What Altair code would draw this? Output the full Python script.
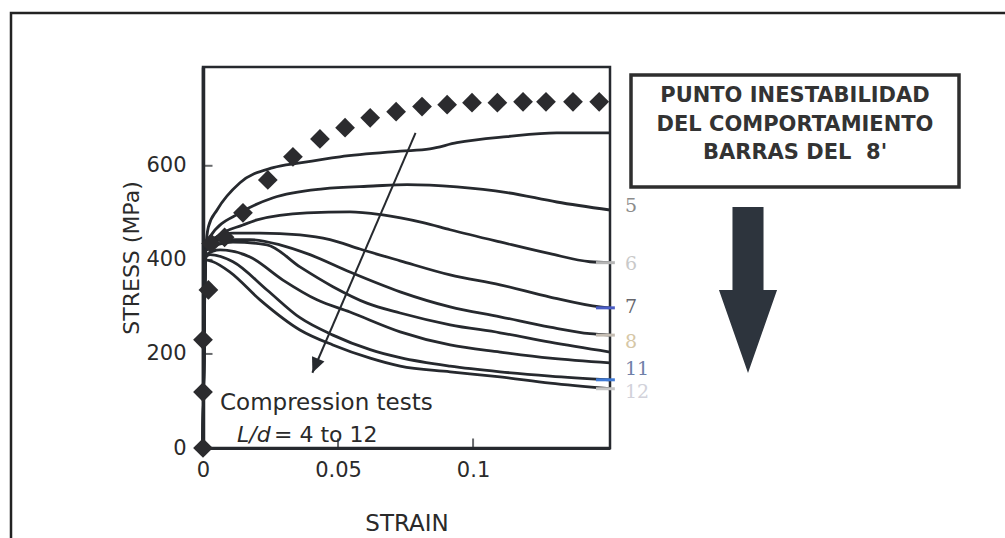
import altair as alt
import pandas as pd

# ---- stress-strain curves, compression tests L/d = 4 ... 12 ----
ld4_strain = [0, 0.001, 0.002, 0.0052, 0.0137, 0.026, 0.0359, 0.0507, 0.073, 0.084, 0.094, 0.1126, 0.131, 0.1507]
ld4_stress = [0, 420, 470, 506, 564, 596, 606, 619, 631, 636, 649, 662, 670, 670]

ld5_strain = [0, 0.001, 0.0026, 0.0137, 0.026, 0.0444, 0.063, 0.0756, 0.094, 0.1126, 0.131, 0.1507]
ld5_stress = [0, 420, 449, 500, 532, 551, 557, 560, 555, 543, 523, 506]

ld6_strain = [0, 0.001, 0.0052, 0.0148, 0.020, 0.0385, 0.0544, 0.066, 0.0815, 0.0915, 0.110, 0.1285, 0.1433, 0.1507]
ld6_stress = [0, 420, 449, 474, 485, 500, 502, 496, 479, 464, 438, 413, 396, 394]

ld7_strain = [0, 0.001, 0.0044, 0.0111, 0.0211, 0.0359, 0.047, 0.0581, 0.073, 0.0915, 0.110, 0.1285, 0.147, 0.1507]
ld7_stress = [0, 420, 447, 457, 457, 453, 443, 423, 398, 368, 347, 321, 300, 298]

ld8_strain = [0, 0.001, 0.0044, 0.0174, 0.0285, 0.0396, 0.0544, 0.073, 0.0915, 0.110, 0.1285, 0.1433, 0.1507]
ld8_stress = [0, 420, 443, 443, 432, 411, 374, 332, 300, 279, 257, 243, 240]

ld9_strain = [0, 0.001, 0.0111, 0.0237, 0.0359, 0.0481, 0.0607, 0.073, 0.0915, 0.110, 0.1285, 0.1507]
ld9_stress = [0, 420, 438, 432, 385, 343, 308, 287, 262, 245, 225, 204]

ld10_strain = [0, 0.001, 0.0063, 0.0174, 0.0296, 0.0422, 0.0544, 0.073, 0.0915, 0.110, 0.1285, 0.1507]
ld10_stress = [0, 410, 421, 406, 357, 315, 289, 247, 219, 204, 191, 181]

ld11_strain = [0, 0.001, 0.0026, 0.0111, 0.0237, 0.0359, 0.0481, 0.0619, 0.073, 0.0915, 0.110, 0.1285, 0.1507]
ld11_stress = [0, 405, 411, 396, 336, 277, 240, 209, 192, 174, 162, 153, 145]

ld12_strain = [0, 0.001, 0.0037, 0.010, 0.0211, 0.0359, 0.0481, 0.0619, 0.073, 0.0915, 0.110, 0.1285, 0.1507]
ld12_stress = [0, 400, 396, 374, 315, 251, 219, 191, 174, 162, 151, 138, 126]

# ---- tension test (diamond markers) ----
tension_strain = [0, 0, 0, 0.002, 0.003, 0.008, 0.0148, 0.024, 0.0333, 0.0433, 0.0526, 0.0619,
                  0.0715, 0.0811, 0.0904, 0.0996, 0.109, 0.1185, 0.127, 0.137, 0.1467]
tension_stress = [0, 119, 230, 336, 435, 448, 500, 570, 619, 657, 681, 702,
                  715, 726, 730, 734, 734, 736, 736, 736, 736]

# ---- curve-end labels ----
end_labels = ["5", "6", "7", "8", "11", "12"]
end_label_stress = [514, 391, 300, 226, 168, 119]

# small coloured marks at the ends of some curves
end_mark_ld = ["6", "7", "8", "11", "12"]
end_mark_stress = [394, 298, 240, 145, 126]

y_ticks = [200, 400, 600]
x_ticks = [0.05, 0.1]
x_tick_labels = [0, 0.05, 0.1]
y_tick_labels = [0, 200, 400, 600]

# trend arrow across the curves (tail, head)
trend_strain = [0.0787, 0.0405]
trend_stress = [670, 160]

box_lines = ["PUNTO INESTABILIDAD", "DEL COMPORTAMIENTO", "BARRAS DEL\u00a0 8'"]

# ---------------------------------------------------------------
curves = {
    "4": (ld4_strain, ld4_stress), "5": (ld5_strain, ld5_stress),
    "6": (ld6_strain, ld6_stress), "7": (ld7_strain, ld7_stress),
    "8": (ld8_strain, ld8_stress), "9": (ld9_strain, ld9_stress),
    "10": (ld10_strain, ld10_stress), "11": (ld11_strain, ld11_stress),
    "12": (ld12_strain, ld12_stress),
}
rows = []
for ld, (xs, ys) in curves.items():
    for i, (s, v) in enumerate(zip(xs, ys)):
        rows.append({"ld": ld, "order": i, "strain": s, "stress": v})
curve_df = pd.DataFrame(rows)

tension_df = pd.DataFrame({"strain": tension_strain, "stress": tension_stress})

W, H = 407, 381
X_MAX, Y_MAX = 0.1507, 810
INK = "#26292e"
SANS = "DejaVu Sans"

x_axis = alt.Axis(values=x_tick_labels, format="~g", ticks=False, grid=False,
                  domainColor=INK, domainWidth=3, labelFont=SANS, labelFontSize=21,
                  labelColor="#2a2a2a", labelPadding=11, labelFlush=False,
                  title="STRAIN", titleFont=SANS, titleFontSize=23, titleFontWeight="normal",
                  titleColor="#2a2a2a", titleY=82, titleBaseline="alphabetic")
y_axis = alt.Axis(values=y_tick_labels, ticks=False, grid=False,
                  domainColor=INK, domainWidth=3.5, labelFont=SANS, labelFontSize=21,
                  labelColor="#2a2a2a", labelPadding=17, labelFlush=False,
                  title="STRESS (MPa)", titleFont=SANS, titleFontSize=22, titleFontWeight="normal",
                  titleColor="#2a2a2a", titleX=-65, titleY=H / 2, titleAngle=270,
                  titleAlign="center", titleBaseline="alphabetic")

def X(field="strain"):
    return alt.X(f"{field}:Q", scale=alt.Scale(domain=[0, X_MAX], nice=False, zero=False), axis=x_axis)

def Y(field="stress"):
    return alt.Y(f"{field}:Q", scale=alt.Scale(domain=[0, Y_MAX], nice=False, zero=False), axis=y_axis)

one = pd.DataFrame({"k": [0]})

lines = alt.Chart(curve_df).mark_line(color=INK, strokeWidth=2.8, interpolate="monotone").encode(
    x=X(), y=Y(), detail="ld:N", order="order:Q")

diamonds = alt.Chart(tension_df).mark_point(shape="diamond", filled=True, size=390,
                                             color="#2b2b2e", opacity=1).encode(x=X(), y=Y())

ytick_df = pd.DataFrame({"strain": [0] * len(y_ticks), "stress": y_ticks})
yticks = alt.Chart(ytick_df).mark_tick(orient="horizontal", size=9, thickness=2,
                                       xOffset=5, color=INK).encode(x=X(), y=Y())
xtick_df = pd.DataFrame({"strain": x_ticks, "stress": [0] * len(x_ticks)})
xticks = alt.Chart(xtick_df).mark_tick(orient="vertical", size=9, thickness=2,
                                       yOffset=-5, color=INK).encode(x=X(), y=Y())

trend_df = pd.DataFrame({"strain": [trend_strain[0]], "stress": [trend_stress[0]],
                         "strain2": [trend_strain[1]], "stress2": [trend_stress[1]]})
trend = alt.Chart(trend_df).mark_rule(color=INK, strokeWidth=2).encode(
    x=X(), y=Y(), x2="strain2:Q", y2="stress2:Q")
head_df = pd.DataFrame({"strain": [trend_strain[1]], "stress": [trend_stress[1]]})
head = alt.Chart(head_df).mark_point(shape="M 0 0 L -0.45 -1 L 0.45 -1 Z", filled=True,
                                     size=900, angle=23, color=INK, opacity=1).encode(x=X(), y=Y())

txt1 = alt.Chart(one).mark_text(text="Compression tests", font=SANS, fontSize=23, align="left",
                                baseline="alphabetic", color="#2a2a2a").encode(
    x=alt.value(17), y=alt.value(343))
txt2a = alt.Chart(one).mark_text(text="L/d", font=SANS, fontSize=22, fontStyle="italic", align="left",
                                 baseline="alphabetic", color="#2a2a2a").encode(
    x=alt.value(34), y=alt.value(375))
txt2b = alt.Chart(one).mark_text(text="= 4 to 12", font=SANS, fontSize=22, align="left",
                                 baseline="alphabetic", color="#2a2a2a").encode(
    x=alt.value(71), y=alt.value(375))

end_label_colors = ["#8c8c8c", "#c9c9c9", "#66666c", "#d6c7a6", "#6f7fa8", "#d2d2da"]
lab_df = pd.DataFrame({"label": end_labels, "stress": end_label_stress,
                       "strain": [X_MAX] * len(end_labels), "col": end_label_colors})
end_text = alt.Chart(lab_df).mark_text(font="DejaVu Serif", fontSize=19, align="left",
                                       baseline="middle", dx=15).encode(
    x=X(), y=Y(), text="label:N", color=alt.Color("col:N", scale=None))

end_mark_colors = ["#b5b5b5", "#4a5cc4", "#c4bcb2", "#3f7ad6", "#c6c6c6"]
mark_df = pd.DataFrame({"ld": end_mark_ld, "stress": end_mark_stress,
                        "strain": [0.1455] * len(end_mark_ld), "strain2": [0.1525] * len(end_mark_ld),
                        "col": end_mark_colors})
end_marks = alt.Chart(mark_df).mark_rule(strokeWidth=3).encode(
    x=X(), x2="strain2:Q", y=Y(), color=alt.Color("col:N", scale=None))

# outer frame of the figure
frame = alt.Chart(one).mark_rect(fillOpacity=0, stroke="#222", strokeWidth=2.5).encode(
    x=alt.value(-192), y=alt.value(-54), x2=alt.value(812), y2=alt.value(482))

# note box on the right
box = alt.Chart(one).mark_rect(fillOpacity=0, stroke="#2e2e2e", strokeWidth=3.5).encode(
    x=alt.value(428), y=alt.value(8), x2=alt.value(756), y2=alt.value(120))
box_baselines = [35, 64, 92]
box_texts = [
    alt.Chart(one).mark_text(text=line, font="DejaVu Sans", fontWeight="bold", fontSize=21,
                             align="center", baseline="alphabetic", color="#333333").encode(
        x=alt.value(592), y=alt.value(by))
    for line, by in zip(box_lines, box_baselines)
]

big_arrow = alt.Chart(one).mark_point(
    shape="M -0.187 -1 L 0.187 -1 L 0.187 0 L 0.35 0 L 0 1 L -0.35 0 L -0.187 0 Z",
    filled=True, size=27556, color="#2d343d", opacity=1).encode(
    x=alt.value(545), y=alt.value(223))

chart = alt.layer(
    lines, diamonds, yticks, xticks, trend, head, txt1, txt2a, txt2b,
    end_marks, end_text, frame, box, *box_texts, big_arrow
).properties(
    width=W, height=H,
    autosize=alt.AutoSizeParams(type="none"),
    padding={"left": 203, "top": 67, "right": 395, "bottom": 90},
    background="white",
).configure_view(stroke=INK, strokeWidth=2.5)

chart.save("out.html", embed_options={"renderer": "svg", "actions": False})
